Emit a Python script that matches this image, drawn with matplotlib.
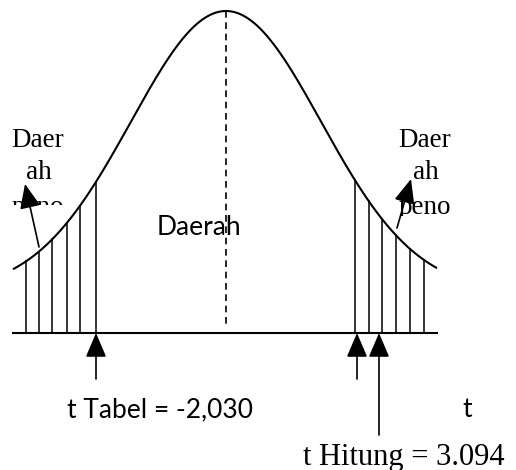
import numpy as np
import matplotlib
matplotlib.use("Agg")
import matplotlib.pyplot as plt
from matplotlib.transforms import Bbox

# bell curve (drawing units = pixels of the 516x470 sketch, y grows downward)
peak_x = 226
peak_y = 11
asymptote_y = 292
spread = 95
curve_left, curve_right = 13, 437
baseline_y = 333

# shaded rejection regions (x of the vertical hatch lines)
hatch_left = [26, 39, 52, 67, 80, 96]
hatch_right = [355, 369, 382, 396, 410, 424]

# critical / computed t positions
t_tabel_pos = [96, 357]
t_hitung_pos = 379
t_tabel_label = "t Tabel = -2,030"
t_hitung_label = "t Hitung = 3.094"


def curve(x):
    x = np.asarray(x, dtype=float)
    h = asymptote_y - peak_y
    return asymptote_y - h * np.exp(-(x - peak_x) ** 2 / (2 * spread ** 2))


def clip_above(ax, ycut):
    # display-space box from the top of the figure down to ycut
    pts = ax.transData.transform([[0, 0], [516, ycut]])
    return Bbox.from_extents(pts[:, 0].min(), pts[:, 1].min(),
                             pts[:, 0].max(), pts[:, 1].max())


fig = plt.figure(figsize=(5.16, 4.70), dpi=100)
ax = fig.add_axes([0, 0, 1, 1])
ax.set_xlim(0, 516)
ax.set_ylim(470, 0)
ax.axis("off")

xs = np.linspace(curve_left, curve_right, 400)
ax.plot(xs, curve(xs), color="black", lw=1.5, solid_capstyle="butt")
ax.plot([curve_left, curve_right], [baseline_y, baseline_y], color="black", lw=1.5)
ax.plot([peak_x, peak_x], [peak_y, baseline_y - 6], color="black", lw=1.2,
        dashes=(4, 2.8))

for hx in hatch_left + hatch_right:
    ax.plot([hx, hx], [baseline_y, curve(hx)], color="black", lw=1.1)

arrow = dict(arrowstyle="-|>,head_length=0.75,head_width=0.32", color="black",
             lw=1.2, mutation_scale=20, shrinkA=0, shrinkB=0)
for tx in t_tabel_pos:
    ax.annotate("", xy=(tx, baseline_y), xytext=(tx, 379), arrowprops=arrow)
ax.annotate("", xy=(t_hitung_pos, baseline_y), xytext=(t_hitung_pos, 435),
            arrowprops=arrow)

# arrows from the region labels
ax.annotate("", xy=(25, 184), xytext=(39, 247), arrowprops=arrow)
ax.annotate("", xy=(411, 179), xytext=(397, 228), arrowprops=arrow)

serif = "Liberation Serif"
sans = "Lato"
for x0 in (38, 425):
    ax.text(x0, 147, "Daer", family=serif, fontsize=19.5, ha="center", va="baseline")
    ax.text(x0 + 1, 179, "ah", family=serif, fontsize=19.5, ha="center", va="baseline")

# the "peno" lines are cut off in the original text boxes
for x0, ycut in ((38, 205), (425, 216)):
    t = ax.text(x0, 214, "peno", family=serif, fontsize=19.5, ha="center",
                va="baseline")
    t.set_clip_box(clip_above(ax, ycut))
    t.set_clip_on(True)

ax.text(157, 235, "Daerah", family=sans, fontsize=19, ha="left", va="baseline")
ax.text(67, 417, t_tabel_label, family=sans, fontsize=19, ha="left", va="baseline")
ax.text(462, 417, "t", family=sans, fontsize=19, ha="left", va="baseline")
ax.text(303, 465, t_hitung_label, family=serif, fontsize=22, ha="left", va="baseline")

fig.savefig("out.png", dpi=100)
